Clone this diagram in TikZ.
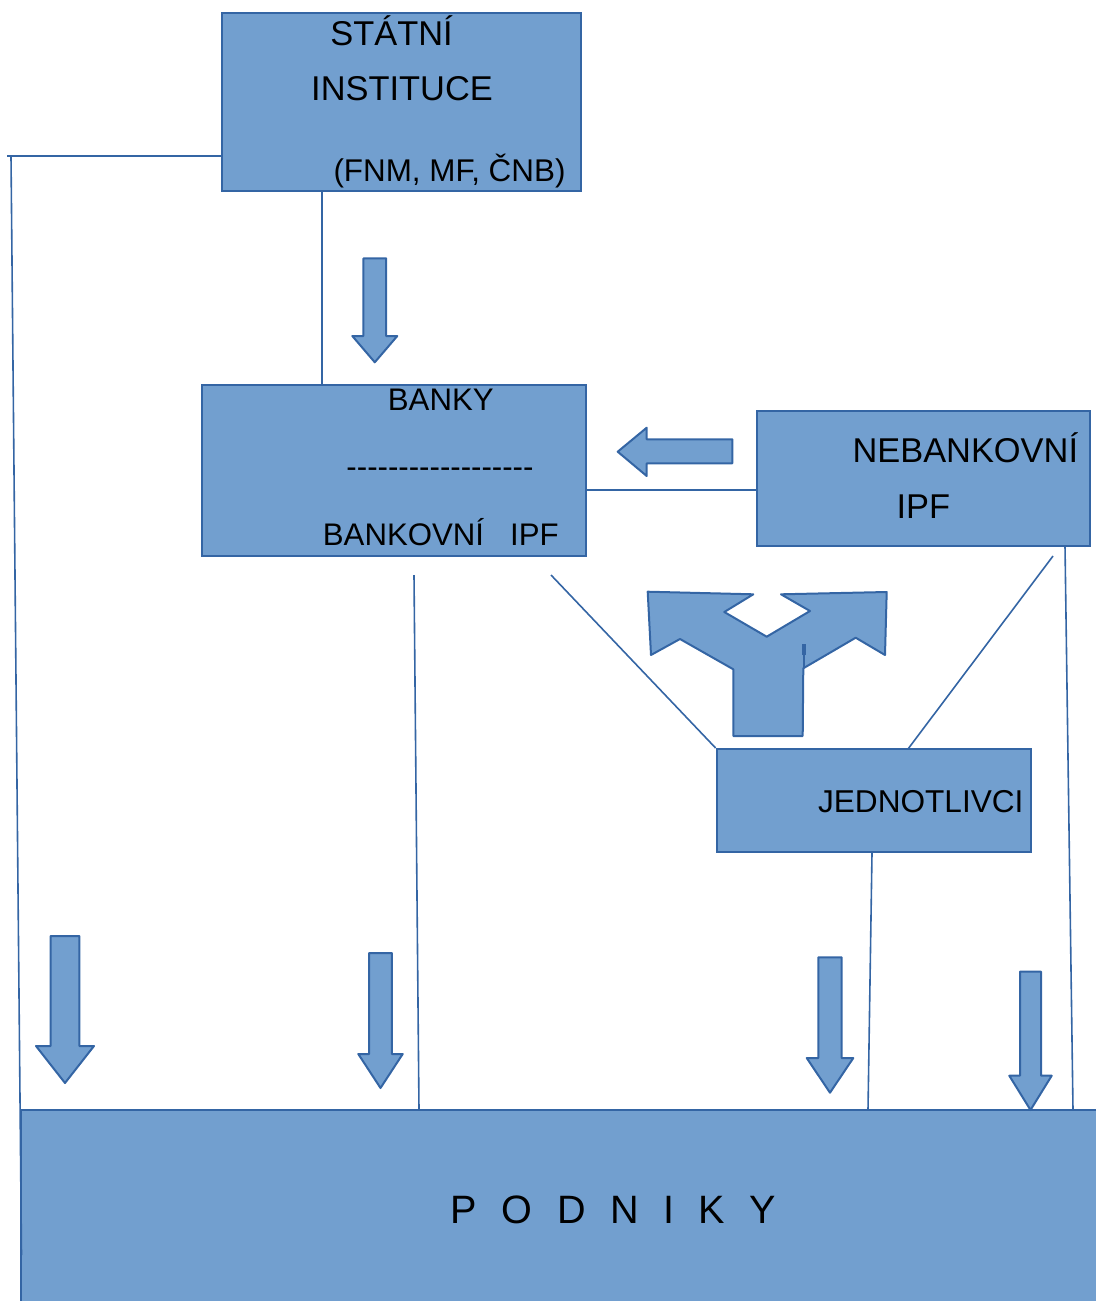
\documentclass[tikz,border=0pt]{standalone}
\usepackage{fontspec}
\setmainfont{Liberation Sans}
\usepackage{xcolor}
\usepackage{tikz}
\usetikzlibrary{calc}

\definecolor{boxfill}{HTML}{729FCF}
\definecolor{boxline}{HTML}{3465A4}
\newcommand{\fsz}[1]{\fontsize{#1}{#1}\selectfont}
% block arrow pointing down: x, half head, half shaft, top, head base, tip
\newcommand{\downarr}[6]{\draw[arr] (#1-#3,#4) -- (#1+#3,#4) -- (#1+#3,#5) -- (#1+#2,#5) -- (#1,#6) -- (#1-#2,#5) -- (#1-#3,#5) -- cycle;}

\begin{document}
\begin{tikzpicture}[x=0.5pt,y=-0.5pt,
  box/.style={draw=boxline,fill=boxfill,line width=1pt,rectangle,inner sep=0pt},
  lbl/.style={anchor=base,inner sep=0pt,text=black},
  conn/.style={draw=boxline,line width=0.8pt},
  arr/.style={draw=boxline,fill=boxfill,line width=1pt,line join=round}]
\useasboundingbox (0,0) rectangle (1096,1301);

\node[box,minimum width=179.5pt,minimum height=89pt] (statni) at (401.5,102) {};
\node[box,minimum width=192pt,minimum height=85.6pt] (banky) at (393.7,470.4) {};
\node[box,minimum width=166.6pt,minimum height=67.5pt] (nebank) at (923.4,478.5) {};
\node[box,minimum width=157.2pt,minimum height=51.6pt] (jednot) at (873.8,800.6) {};
\node[box,minimum width=549.5pt,minimum height=105pt] (podniky) at (570.5,1215) {};

\coordinate (lft) at (7,156);
\coordinate (lfttop) at (11,156);
\coordinate (lftbot) at (21.5,1255);
\coordinate (sb) at (322,0);
\coordinate (mid) at (0,490);
\coordinate (b1) at (414,575);
\coordinate (b2) at (551,575);
\coordinate (n1) at (1053,556);
\coordinate (n2) at (1065,546);
\coordinate (j1) at (908,749);
\coordinate (j2) at (872,0);
\coordinate (p1) at (419,1110);
\coordinate (p3) at (868,1110);
\coordinate (p4) at (1073,1110);

\draw[conn] (statni.west |- lft) -- (lft);
\draw[conn] (lfttop) -- (lftbot);
\draw[conn] (statni.south -| sb) -- (banky.north -| sb);
\draw[conn] (banky.east |- mid) -- (nebank.west |- mid);
\draw[conn] (b1) -- (p1);
\draw[conn] (b2) -- (jednot.north west);
\draw[conn] (n1) -- (j1);
\draw[conn] (n2) -- (p4);
\draw[conn] (jednot.south -| j2) -- (p3);

\downarr{374.8}{22.5}{11.35}{258.3}{336}{362.3}
\downarr{65}{29}{14.3}{936}{1046}{1083}
\downarr{380.5}{22.2}{11.3}{953}{1054}{1088}
\downarr{830}{23.3}{11.7}{957.3}{1058}{1092.7}
\downarr{1030.5}{21.2}{10.5}{971.7}{1075.7}{1110}
\draw[arr] (732.3,439.3) -- (646.7,439.3) -- (646.7,427.7) -- (617.7,451.7) -- (646.7,476) -- (646.7,463.3) -- (732.3,463.3) -- cycle;
\draw[arr] (647.7,591.7) -- (753.3,594.3) -- (724.3,612) -- (766.7,636.7) -- (810,611) -- (781,594.3) -- (886.7,592) -- (885,655) -- (855.7,637.7) -- (803.3,668.3) -- (802.7,736) -- (733.3,736) -- (733.3,669.3) -- (680,639) -- (651,655) -- cycle;
\draw[boxline,line width=2pt] (804,644) -- (804,655);
\draw[boxline,line width=1pt] (804,655) -- (804,668);

\node[lbl,font=\fsz{17.2}] (t1) at (391.5,45) {STÁTNÍ};
\node[lbl,font=\fsz{17.2}] (t2) at (402,100.7) {INSTITUCE};
\node[lbl,font=\fsz{15.7}] (t3) at (449.5,181.7) {(FNM, MF, ČNB)};
\node[lbl,font=\fsz{15.6}] (t4) at (440.8,410) {BANKY};
\node[lbl,font=\fsz{15.6}] (t5) at (440,477) {\foreach \i in {1,...,18}{\mbox{-}}};
\node[lbl,font=\fsz{15.6}] (t6) at (440.8,545) {BANKOVNÍ\ \ \ IPF};
\node[lbl,font=\fsz{17.2}] (t7) at (965.3,462.7) {NEBANKOVNÍ};
\node[lbl,font=\fsz{17.2}] (t8) at (923.3,518.3) {IPF};
\node[lbl,font=\fsz{15.8}] (t9) at (920.8,812.3) {JEDNOTLIVCI};
\node[lbl,font=\fsz{19.8}] (t10) at (613.5,1223.3) {\spaceskip=12.25pt P O D N I K Y};

\end{tikzpicture}
\end{document}
